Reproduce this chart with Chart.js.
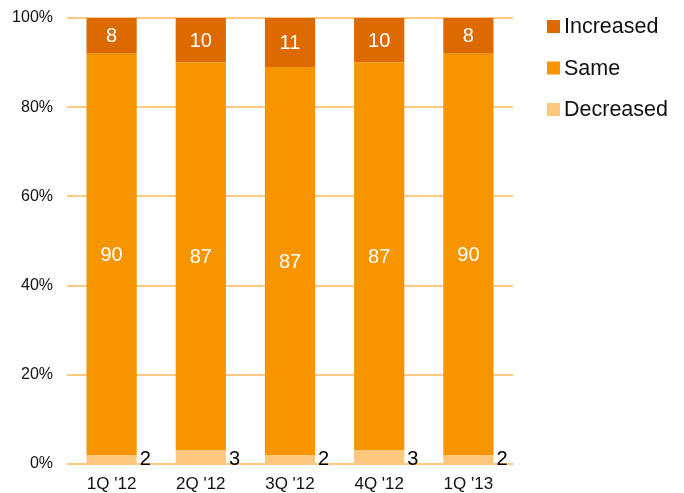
<!DOCTYPE html>
<html>
<head>
<meta charset="utf-8">
<script src="https://cdn.jsdelivr.net/npm/chart.js@4"></script>
<style>
  html, body { margin: 0; padding: 0; background: #fff; }
  #wrap { width: 684px; height: 493px; }
</style>
</head>
<body>
<div id="wrap"><canvas id="c" width="684" height="493"></canvas></div>
<script>
// Quarterly survey shares (percent of respondents)
const quarters = ["1Q '12", "2Q '12", "3Q '12", "4Q '12", "1Q '13"];
const decreased = [2, 3, 2, 3, 2];
const same = [90, 87, 87, 87, 90];
const increased = [8, 10, 11, 10, 8];
const yTicks = [0, 20, 40, 60, 80, 100];

const FONT = "'Liberation Sans', Arial, sans-serif";
const colors = {
  increased: '#DD6A00',
  same: '#F79500',
  decreased: '#FDC77E',
  grid: '#FBCB86'
};

const series = [
  { label: 'Decreased', data: decreased, backgroundColor: colors.decreased },
  { label: 'Same', data: same, backgroundColor: colors.same },
  { label: 'Increased', data: increased, backgroundColor: colors.increased }
];

// Value labels: inside for Same/Increased, beside the bar for Decreased
const valueLabels = {
  id: 'valueLabels',
  afterDatasetsDraw(chart) {
    const ctx = chart.ctx;
    ctx.save();
    ctx.font = '20px ' + FONT;
    chart.data.datasets.forEach((ds, di) => {
      const meta = chart.getDatasetMeta(di);
      meta.data.forEach((bar, i) => {
        const v = ds.data[i];
        if (di === 0) {
          ctx.fillStyle = '#000';
          ctx.textAlign = 'left';
          ctx.textBaseline = 'alphabetic';
          ctx.fillText(String(v), bar.x + bar.width / 2 + 3, bar.base + 2);
        } else {
          ctx.fillStyle = '#fff';
          ctx.textAlign = 'center';
          ctx.textBaseline = 'middle';
          ctx.fillText(String(v), bar.x, (bar.y + bar.base) / 2 + 1);
        }
      });
    });
    ctx.restore();
  }
};

// Legend on the right, top to bottom: Increased, Same, Decreased
const sideLegend = {
  id: 'sideLegend',
  afterDraw(chart) {
    const ctx = chart.ctx;
    const items = chart.data.datasets.slice().reverse();
    ctx.save();
    ctx.font = '21.5px ' + FONT;
    ctx.textAlign = 'left';
    ctx.textBaseline = 'middle';
    items.forEach((ds, k) => {
      const cy = 26.5 + k * 41.5;
      ctx.fillStyle = ds.backgroundColor;
      ctx.fillRect(547, cy - 6.5, 13, 13);
      ctx.fillStyle = '#111';
      ctx.fillText(ds.label, 564, cy + 1);
    });
    ctx.restore();
  }
};

new Chart(document.getElementById('c'), {
  type: 'bar',
  data: {
    labels: quarters,
    datasets: series.map(s => Object.assign({
      borderWidth: 0,
      categoryPercentage: 1,
      barPercentage: 0.563
    }, s))
  },
  options: {
    responsive: false,
    animation: false,
    devicePixelRatio: 1,
    layout: { padding: { top: 18, right: 171, bottom: 0, left: 0 } },
    plugins: { legend: { display: false }, tooltip: { enabled: false } },
    scales: {
      x: {
        stacked: true,
        grid: { display: false, drawTicks: false },
        border: { display: false },
        ticks: { color: '#111', font: { family: FONT, size: 17 }, padding: 10 },
        afterFit(scale) {
          scale.height = 29;
          scale.paddingLeft = 0;
          scale.paddingRight = 0;
        }
      },
      y: {
        stacked: true,
        min: 0,
        max: 100,
        afterBuildTicks(scale) { scale.ticks = yTicks.map(v => ({ value: v })); },
        grid: { color: colors.grid, lineWidth: 2, drawTicks: false },
        border: { display: false },
        ticks: {
          color: '#111',
          font: { family: FONT, size: 16 },
          padding: 14,
          callback: v => v + '%'
        },
        afterFit(scale) {
          scale.width = 67;
          scale.paddingTop = 0;
          scale.paddingBottom = 0;
        }
      }
    }
  },
  plugins: [valueLabels, sideLegend]
});
</script>
</body>
</html>
